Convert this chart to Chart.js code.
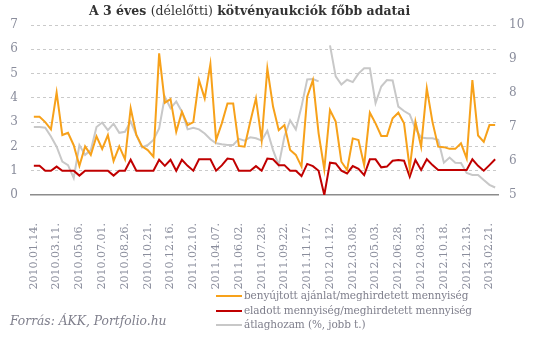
<!DOCTYPE html>
<html>
<head>
<meta charset="utf-8">
<script src="https://cdn.jsdelivr.net/npm/chart.js@4"></script>
<style>
  body { margin: 0; background: #fff; }
  #wrap { position: relative; width: 534px; height: 339px; }
  #chart { position: absolute; left: 0; top: 0; }
  #title { position: absolute; left: 89px; top: 3px; font: bold 12.5px "DejaVu Serif"; color: #333; white-space: nowrap; }
  #title span { font-weight: normal; }
  #legend { position: absolute; left: 216px; top: 288px; font: 10.5px "DejaVu Serif"; letter-spacing: -0.1px; color: #7f7f8c; }
  #legend div { height: 14.5px; line-height: 14.5px; white-space: nowrap; }
  #legend i { display: inline-block; width: 26px; height: 2px; vertical-align: middle; margin-right: 2px; }
  #source { position: absolute; left: 10px; top: 314px; font: italic 12.3px "DejaVu Serif"; color: #7f7f8c; }
</style>
</head>
<body>
<div id="wrap">
  <canvas id="chart" width="534" height="339"></canvas>
  <div id="title">A 3 éves <span>(délelőtti)</span> kötvényaukciók főbb adatai</div>
  <div id="legend">
    <div><i style="background:#f7a11a"></i>benyújtott ajánlat/meghirdetett mennyiség</div>
    <div><i style="background:#c00000"></i>eladott mennyiség/meghirdetett mennyiség</div>
    <div><i style="background:#c8c8c8"></i>átlaghozam (%, jobb t.)</div>
  </div>
  <div id="source">Forrás: ÁKK, Portfolio.hu</div>
</div>
<script>
// date labels shown on the x axis (every 4th auction)
var tickLabels = ['2010.01.14.', '2010.03.11.', '2010.05.06.', '2010.07.01.', '2010.08.26.',
  '2010.10.21.', '2010.12.16.', '2011.02.10.', '2011.04.07.', '2011.06.02.', '2011.07.28.',
  '2011.09.22.', '2011.11.17.', '2012.01.12.', '2012.03.08.', '2012.05.03.', '2012.06.28.',
  '2012.08.23.', '2012.10.18.', '2012.12.13.', '2013.02.21.'];

// benyújtott ajánlat / meghirdetett mennyiség
var bidToCover = [3.22, 3.22, 3.0, 2.7, 4.22, 2.47, 2.56, 2.05, 1.2, 2.0,
  1.65, 2.42, 1.9, 2.47, 1.4, 2.0, 1.47, 3.57, 2.47, 2.0,
  1.85, 1.58, 5.83, 3.8, 3.95, 2.6, 3.43, 2.88, 3.0, 4.73,
  3.98, 5.39, 2.26, 2.95, 3.77, 3.77, 2.02, 1.99, 3.02, 3.98,
  2.26, 5.21, 3.64, 2.67, 2.88, 1.85, 1.65, 1.17, 4.05, 4.73,
  2.54, 1.06, 3.5, 3.02, 1.37, 1.03, 2.33, 2.26, 1.23, 3.39,
  2.95, 2.43, 2.43, 3.16, 3.39, 2.95, 1.1, 3.02, 1.99, 4.39,
  3.0, 1.99, 1.97, 1.9, 1.9, 2.13, 1.51, 4.73, 2.45, 2.19,
  2.88, 2.88];

// eladott mennyiség / meghirdetett mennyiség
var soldRatio = [1.2, 1.2, 1.0, 1.0, 1.17, 1.0, 1.0, 1.0, 0.8, 1.0,
  1.0, 1.0, 1.0, 1.0, 0.8, 1.0, 1.0, 1.45, 1.0, 1.0,
  1.0, 1.0, 1.45, 1.2, 1.45, 1.0, 1.45, 1.2, 1.0, 1.47,
  1.47, 1.47, 1.0, 1.22, 1.5, 1.47, 1.0, 1.0, 1.0, 1.19,
  1.0, 1.5, 1.47, 1.23, 1.23, 1.0, 1.0, 0.78, 1.28, 1.19,
  1.0, 0, 1.33, 1.3, 1.0, 0.89, 1.19, 1.08, 0.82, 1.47,
  1.47, 1.14, 1.17, 1.41, 1.44, 1.41, 0.75, 1.44, 1.03, 1.47,
  1.23, 1.03, 1.03, 1.03, 1.03, 1.03, 1.03, 1.47, 1.2, 1.0,
  1.23, 1.47];

// átlaghozam (%), right axis
var avgYield = [7.0, 7.0, 6.98, 6.72, 6.42, 5.98, 5.88, 5.5, 6.47, 6.18,
  6.32, 7.0, 7.13, 6.91, 7.1, 6.83, 6.86, 7.16, 6.76, 6.4,
  6.47, 6.62, 6.96, 7.89, 7.55, 7.75, 7.45, 6.93, 6.98, 6.93,
  6.81, 6.64, 6.52, 6.49, 6.47, 6.47, 6.65, 6.6, 6.7, 6.67,
  6.6, 6.89, 6.32, 5.88, 6.72, 7.2, 6.93, 7.6, 8.4, 8.41,
  8.34, null, 9.4, 8.49, 8.25, 8.39, 8.32, 8.57, 8.73, 8.73,
  7.7, 8.19, 8.38, 8.37, 7.6, 7.47, 7.37, 6.95, 6.69, 6.67,
  6.67, 6.62, 5.95, 6.1, 5.95, 5.94, 5.65, 5.59, 5.59, 5.44,
  5.3, 5.22];

var categories = bidToCover.map(function (v, i) {
  return i % 4 === 0 ? tickLabels[i / 4] : '';
});

var tickColor = '#8a8d9c';

var ctx = document.getElementById('chart').getContext('2d');
new Chart(ctx, {
  type: 'line',
  data: {
    labels: categories,
    datasets: [{
      label: 'benyújtott ajánlat/meghirdetett mennyiség',
      data: bidToCover,
      borderColor: '#f7a11a',
      yAxisID: 'y'
    }, {
      label: 'eladott mennyiség/meghirdetett mennyiség',
      data: soldRatio,
      borderColor: '#c00000',
      yAxisID: 'y'
    }, {
      label: 'átlaghozam (%, jobb t.)',
      data: avgYield,
      borderColor: '#c8c8c8',
      yAxisID: 'y2'
    }]
  },
  options: {
    responsive: false,
    animation: false,
    spanGaps: false,
    elements: {
      line: { borderWidth: 2, tension: 0, fill: false },
      point: { radius: 0 }
    },
    layout: { padding: { top: 25, left: 0, right: 0, bottom: 0 } },
    plugins: { legend: { display: false }, tooltip: { enabled: false } },
    scales: {
      x: {
        offset: true,
        grid: { display: false },
        border: { display: true, color: '#8c8c8c', width: 1.5 },
        ticks: {
          autoSkip: false, maxRotation: 90, minRotation: 90, padding: 20,
          color: tickColor, font: { family: 'DejaVu Serif', size: 11 }
        },
        afterFit: function (s) { s.height = 144; }
      },
      y: {
        position: 'left', min: 0, max: 7,
        grid: {
          drawTicks: false, lineWidth: 1,
          color: function (c) { return c.tick && c.tick.value === 0 ? 'rgba(0,0,0,0)' : '#cacaca'; }
        },
        border: { display: false, dash: [3, 3] },
        ticks: { stepSize: 1, padding: 13, color: tickColor, font: { family: 'DejaVu Serif', size: 12 } },
        afterFit: function (s) { s.width = 31; }
      },
      y2: {
        position: 'right', min: 5, max: 10,
        grid: { display: false, drawTicks: false },
        border: { display: false },
        ticks: { stepSize: 1, padding: 11, color: tickColor, font: { family: 'DejaVu Serif', size: 12 } },
        afterFit: function (s) { s.width = 36; }
      }
    }
  }
});
</script>
</body>
</html>
